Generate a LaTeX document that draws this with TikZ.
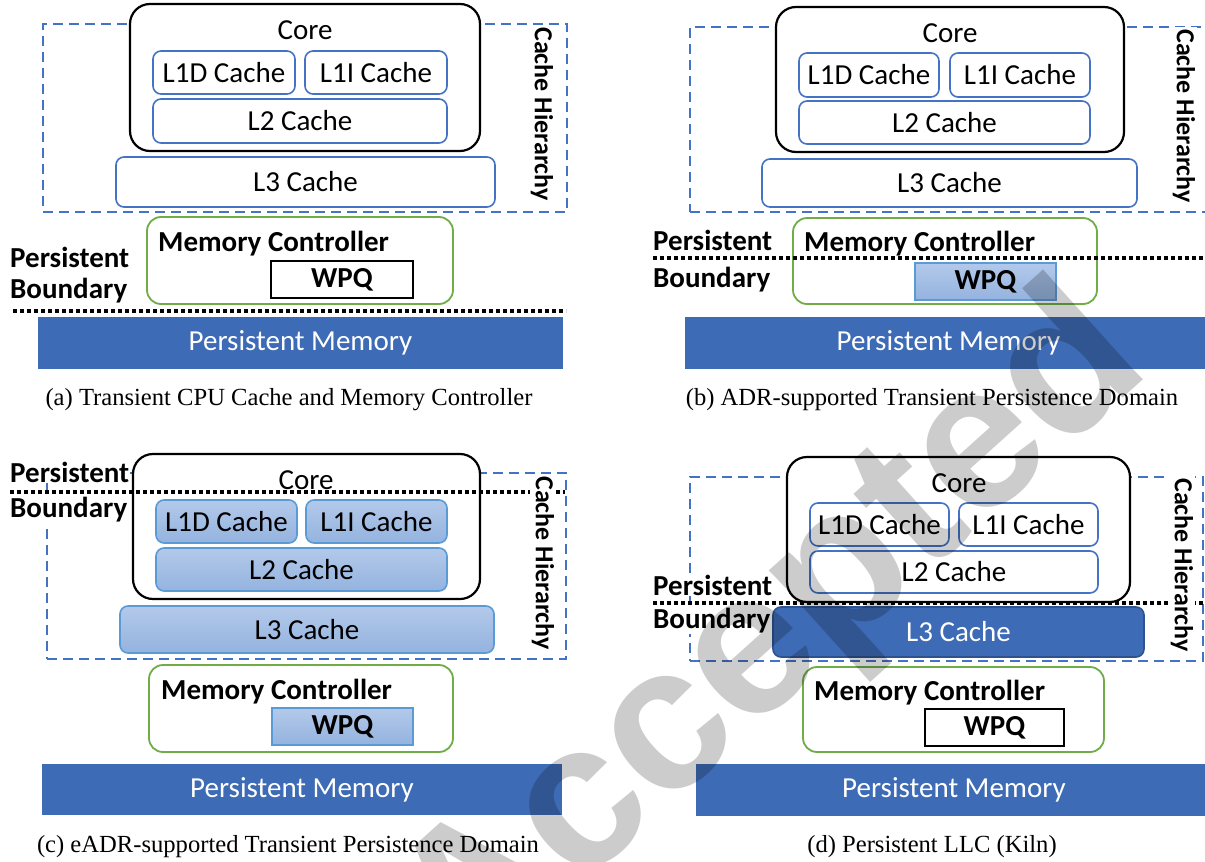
\documentclass[tikz,border=0pt]{standalone}
\usepackage{fontspec}
\setmainfont{Carlito}
\newfontfamily\capfont{Liberation Serif}
\newfontfamily\wmfont{Liberation Sans}
\usetikzlibrary{positioning}

\definecolor{cacheblue}{HTML}{4472C4}
\definecolor{pmblue}{HTML}{3D6BB5}
\definecolor{pmborder}{HTML}{2F528F}
\definecolor{mcgreen}{HTML}{70AD47}
\definecolor{lightbord}{HTML}{5B9BD5}
\definecolor{shadetop}{HTML}{B3C9EA}
\definecolor{shadebot}{HTML}{94B3DF}

\tikzset{
  cachebox/.style={draw=cacheblue, line width=1.6pt, rounded corners=8pt, fill=white,
    font=\fontsize{29}{31}\selectfont, inner sep=0pt},
  pcachebox/.style={cachebox, draw=lightbord, top color=shadetop, bottom color=shadebot},
  llcbox/.style={cachebox, draw=pmborder, fill=pmblue, text=white},
  corebox/.style={draw=black, line width=2.2pt, rounded corners=20pt, fill=white, inner sep=0pt},
  hierbox/.style={draw=cacheblue, line width=1.8pt, dash pattern=on 10pt off 6pt, inner sep=0pt},
  mcbox/.style={draw=mcgreen, line width=1.8pt, rounded corners=14pt, fill=white, inner sep=0pt},
  wpqbox/.style={draw=black, line width=2.2pt, fill=white, inner sep=0pt,
    font=\bfseries\fontsize{29}{31}\selectfont},
  pwpqbox/.style={wpqbox, draw=lightbord, top color=shadetop, bottom color=shadebot},
  pmbox/.style={fill=pmblue, text=white, inner sep=0pt, font=\fontsize{29}{31}\selectfont},
  boundary/.style={line width=4pt, dash pattern=on 4pt off 3pt},
  plabel/.style={fill=white, inner sep=1pt, anchor=base west,
    font=\bfseries\fontsize{29}{31}\selectfont},
  hierlabel/.style={fill=white, inner sep=2pt, rotate=-90,
    font=\bfseries\fontsize{26}{28}\selectfont},
  coretxt/.style={inner sep=0pt, font=\fontsize{29}{31}\selectfont},
  mctxt/.style={inner sep=0pt, anchor=base west, font=\bfseries\fontsize{29}{31}\selectfont},
  caption/.style={inner sep=0pt, anchor=base, font=\capfont\fontsize{24.6}{26}\selectfont}
}

\begin{document}
\begin{tikzpicture}[x=1pt,y=-1pt]
  \fill[white] (0,0) rectangle (1205,862);
  \useasboundingbox (0,0) rectangle (1205,862);
  \clip (0,0) rectangle (1205,862);

  % (a) transient cache and memory controller
  \node[hierbox, minimum width=524, minimum height=188] (hier-a) at (305,118) {};
  \node[corebox, minimum width=350, minimum height=147] (core-a) at (305,77.5) {};
  \node[coretxt] (coretxt-a) at (305,30) {Core};
  \node[cachebox, minimum width=142, minimum height=43] (l1d-a) at (224,72.5) {L1D Cache};
  \node[cachebox, minimum width=142, minimum height=43] (l1i-a) at (376,72.5) {L1I Cache};
  \node[cachebox, minimum width=294, minimum height=44] (l2-a) at (300,121) {L2 Cache};
  \node[cachebox, minimum width=379, minimum height=50] (l3-a) at (305.5,182) {L3 Cache};
  \node[mcbox, minimum width=306, minimum height=87] (mc-a) at (300,260.5) {};
  \node[mctxt] (mctxt-a) at (158,251) {Memory Controller};
  \node[wpqbox, minimum width=142, minimum height=37] (wpq-a) at (342,279.5) {WPQ};
  \node[pmbox, minimum width=525, minimum height=52] (pm-a) at (300.5,343) {Persistent Memory};
  \coordinate (bl-a) at (13,311);
  \coordinate (br-a) at (566,311);
  \draw[boundary] (bl-a) -- (br-a);
  \node[hierlabel] (hiertxt-a) at (542,114) {Cache Hierarchy};
  \node[plabel] (pers-a) at (9,267) {Persistent};
  \node[plabel] (bound-a) at (9,298) {Boundary};
  \node[caption] (cap-a) at (289,405) {(a) Transient CPU Cache and Memory Controller};

  % (b) ADR
  \node[hierbox, minimum width=523, minimum height=185] (hier-b) at (951.5,119.5) {};
  \node[corebox, minimum width=348, minimum height=145] (core-b) at (950,79.5) {};
  \node[coretxt] (coretxt-b) at (950,33) {Core};
  \node[cachebox, minimum width=140, minimum height=44] (l1d-b) at (869,75) {L1D Cache};
  \node[cachebox, minimum width=140, minimum height=44] (l1i-b) at (1020,75) {L1I Cache};
  \node[cachebox, minimum width=291, minimum height=43] (l2-b) at (944.5,122.5) {L2 Cache};
  \node[cachebox, minimum width=375, minimum height=48] (l3-b) at (949.5,183) {L3 Cache};
  \node[mcbox, minimum width=304, minimum height=86] (mc-b) at (945,261) {};
  \node[mctxt] (mctxt-b) at (804,251) {Memory Controller};
  \node[pwpqbox, minimum width=141, minimum height=37] (wpq-b) at (985.5,281.5) {WPQ};
  \node[pmbox, minimum width=527, minimum height=52] (pm-b) at (948.5,343) {Persistent Memory};
  \coordinate (bl-b) at (653,258);
  \coordinate (br-b) at (1210,258);
  \draw[boundary] (bl-b) -- (br-b);
  \node[hierlabel] (hiertxt-b) at (1184,116) {Cache Hierarchy};
  \node[plabel] (pers-b) at (652,250) {Persistent};
  \node[plabel] (bound-b) at (652,287) {Boundary};
  \node[caption] (cap-b) at (932,405) {(b) ADR-supported Transient Persistence Domain};

  % (c) eADR
  \node[hierbox, minimum width=519, minimum height=186] (hier-c) at (306.5,566) {};
  \node[corebox, minimum width=347, minimum height=145] (core-c) at (306.5,526.5) {};
  \node[coretxt] (coretxt-c) at (306,480) {Core};
  \node[pcachebox, minimum width=141, minimum height=43] (l1d-c) at (226.5,521.5) {L1D Cache};
  \node[pcachebox, minimum width=141, minimum height=43] (l1i-c) at (376.5,521.5) {L1I Cache};
  \node[pcachebox, minimum width=291, minimum height=43] (l2-c) at (301.5,569.5) {L2 Cache};
  \node[pcachebox, minimum width=374, minimum height=47] (l3-c) at (307,629.5) {L3 Cache};
  \node[mcbox, minimum width=304, minimum height=87] (mc-c) at (301,708.5) {};
  \node[mctxt] (mctxt-c) at (161,699) {Memory Controller};
  \node[pwpqbox, minimum width=141, minimum height=37] (wpq-c) at (342.5,726.5) {WPQ};
  \node[pmbox, minimum width=520, minimum height=51] (pm-c) at (302,789.5) {Persistent Memory};
  \coordinate (bl-c) at (10,492);
  \coordinate (br-c) at (565,492);
  \draw[boundary] (bl-c) -- (br-c);
  \node[hierlabel] (hiertxt-c) at (543,563) {Cache Hierarchy};
  \node[plabel] (pers-c) at (9,482) {Persistent};
  \node[plabel] (bound-c) at (9,517) {Boundary};
  \node[caption] (cap-c) at (288,852) {(c) eADR-supported Transient Persistence Domain};

  % (d) persistent LLC
  \node[hierbox, minimum width=513, minimum height=184] (hier-d) at (946.5,569) {};
  \node[corebox, minimum width=343, minimum height=145] (core-d) at (958.5,529.5) {};
  \node[coretxt] (coretxt-d) at (959,483) {Core};
  \node[cachebox, minimum width=139, minimum height=43] (l1d-d) at (879.5,524.5) {L1D Cache};
  \node[cachebox, minimum width=139, minimum height=43] (l1i-d) at (1028.5,524.5) {L1I Cache};
  \node[cachebox, minimum width=288, minimum height=42] (l2-d) at (954,572) {L2 Cache};
  \node[llcbox, minimum width=371, minimum height=50] (l3-d) at (958.5,632) {L3 Cache};
  \node[mcbox, minimum width=301, minimum height=85] (mc-d) at (953.5,709.5) {};
  \node[mctxt] (mctxt-d) at (814,700) {Memory Controller};
  \node[wpqbox, minimum width=139, minimum height=37] (wpq-d) at (994.5,727.5) {WPQ};
  \node[pmbox, minimum width=516, minimum height=52] (pm-d) at (954,790) {Persistent Memory};
  \coordinate (bl-d) at (653,603);
  \coordinate (br-d) at (1203,603);
  \draw[boundary] (bl-d) -- (br-d);
  \node[hierlabel] (hiertxt-d) at (1182,565) {Cache Hierarchy};
  \node[plabel] (pers-d) at (652,595) {Persistent};
  \node[plabel] (bound-d) at (652,628) {Boundary};
  \node[caption] (cap-d) at (932,852) {(d) Persistent LLC (Kiln)};

  % watermark
  \node[rotate=42, text=black, text opacity=0.2, inner sep=0pt,
    font=\wmfont\bfseries\fontsize{205}{205}\selectfont] (stamp) at (775,640) {Accepted};
\end{tikzpicture}
\end{document}
